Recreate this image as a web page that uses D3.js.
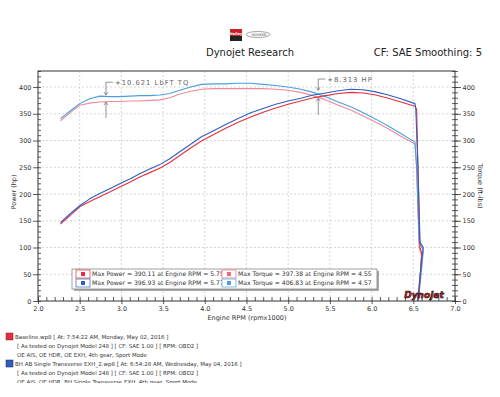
<!DOCTYPE html>
<html>
<head>
<meta charset="utf-8">
<script src="https://cdn.jsdelivr.net/npm/d3@7"></script>
<style>
  body { margin: 0; background: #fff; }
  text { font-family: "DejaVu Sans", sans-serif; }
</style>
</head>
<body>
<div id="graph-container"></div>
<script>
const width = 500, height = 397;

// engine rpm (x1000) shared by the four curves up to the end of the pull
const rpm = [2.27, 2.4, 2.5, 2.62, 2.74, 2.86, 2.98, 3.1, 3.22, 3.34, 3.46, 3.58, 3.7, 3.83, 3.96, 4.1,
  4.25, 4.4, 4.55, 4.7, 4.85, 5.0, 5.15, 5.3, 5.45, 5.6, 5.75, 5.9, 6.05, 6.2, 6.35, 6.52];

const powerBase = [144, 162, 176, 186, 195, 204, 213, 222, 232, 240, 248, 259, 272, 286, 299, 311,
  323, 334, 344, 353, 361, 368, 374, 380, 384, 388, 390, 389, 385, 379, 372, 364];
const powerBH = [147, 165, 178, 191, 201, 210, 219, 228, 238, 247, 255, 266, 279, 293, 307, 318,
  330, 341, 352, 360, 368, 374, 379, 385, 389, 393, 396, 395, 391, 385, 378, 369];
const torqueBase = [337, 354, 366, 370, 372, 373, 373, 374, 374, 375, 376, 380, 387, 392, 396, 397,
  397, 397, 397, 397, 396, 394, 390, 384, 376, 366, 357, 346, 334, 322, 308, 294];
const torqueBH = [341, 357, 369, 378, 383, 382, 382, 383, 384, 384, 385, 388, 394, 400, 405, 406,
  406, 407, 407, 405, 403, 400, 396, 390, 382, 372, 363, 352, 340, 327, 313, 297];

// run-down after the pull (rpm falls back while the value drops)
const powerBaseTailRpm = [6.54, 6.56, 6.58, 6.60, 6.58, 6.56];
const powerBaseTail = [358, 220, 100, 90, 40, 0];
const powerBHTailRpm = [6.53, 6.56, 6.58, 6.62, 6.60, 6.57, 6.55];
const powerBHTail = [360, 230, 110, 100, 75, 30, 0];
const torqueBaseTailRpm = [6.54, 6.57, 6.60, 6.58, 6.56];
const torqueBaseTail = [250, 100, 85, 40, 0];
const torqueBHTailRpm = [6.54, 6.57, 6.62, 6.60, 6.56];
const torqueBHTail = [250, 110, 95, 60, 0];

const xTicks = [2.0, 2.5, 3.0, 3.5, 4.0, 4.5, 5.0, 5.5, 6.0, 6.5, 7.0];
const yTicks = [0, 50, 100, 150, 200, 250, 300, 350, 400];

const legendPower = ["Max Power = 390.11 at Engine RPM = 5.75", "Max Power = 396.93 at Engine RPM = 5.77"];
const legendTorque = ["Max Torque = 397.38 at Engine RPM = 4.55", "Max Torque = 406.83 at Engine RPM = 4.57"];

const notes = [
  "Baseline.wp8 [ At: 7:54:22 AM, Monday, May 02, 2016 ]",
  "[ As tested on Dynojet Model 248 ]  [ CF: SAE 1.00 ]  [ RPM: OBD2 ]",
  "OE AIS, OE HDR, OE EXH, 4th gear, Sport Mode",
  "BH AB Single Transverse EXH_2.wp8 [ At: 6:54:28 AM, Wednesday, May 04, 2016 ]",
  "[ As tested on Dynojet Model 248 ]  [ CF: SAE 1.00 ]  [ RPM: OBD2 ]",
  "OE AIS, OE HDR, BH Single Transverse EXH, 4th gear, Sport Mode"
];

const mLeft = 38, mRight = 455, mTop = 71, mBottom = 301;

const x = d3.scaleLinear().domain([2, 7]).range([mLeft, mRight]);
const y = d3.scaleLinear().domain([0, 430]).range([mBottom, mTop]);

const svg = d3.create("svg")
  .attr("width", width)
  .attr("height", height)
  .attr("viewBox", [0, 0, width, height]);

// header
svg.append("rect").attr("x", 230).attr("y", 29).attr("width", 12).attr("height", 7).attr("fill", "#c8202c");
svg.append("rect").attr("x", 230).attr("y", 36).attr("width", 12).attr("height", 5).attr("fill", "#222");
svg.append("text").attr("x", 236).attr("y", 34.5).attr("text-anchor", "middle")
  .attr("font-size", 3.5).attr("font-weight", "bold").attr("fill", "#fff").text("Holley");
svg.append("ellipse").attr("cx", 258).attr("cy", 34.5).attr("rx", 12).attr("ry", 3)
  .attr("fill", "none").attr("stroke", "#666").attr("stroke-width", 0.6);
svg.append("text").attr("x", 259).attr("y", 36).attr("text-anchor", "middle")
  .attr("font-size", 3.5).attr("fill", "#444").text("HOOKER");

svg.append("text").attr("x", 250).attr("y", 56).attr("text-anchor", "middle")
  .attr("font-family", "Liberation Sans").attr("font-size", 10).attr("fill", "#222")
  .text("Dynojet Research");
svg.append("text").attr("x", 482).attr("y", 56).attr("text-anchor", "end")
  .attr("font-family", "Liberation Sans").attr("font-size", 10).attr("fill", "#222")
  .text("CF: SAE Smoothing: 5");

// grid
const grid = svg.append("g").attr("stroke", "#c4c4c4").attr("stroke-dasharray", "2,2").attr("stroke-width", 0.7);
grid.selectAll("line.v").data(xTicks.slice(1, -1)).join("line").attr("class", "v")
  .attr("x1", d => x(d)).attr("x2", d => x(d)).attr("y1", mTop).attr("y2", mBottom);
grid.selectAll("line.h").data(yTicks.slice(1)).join("line").attr("class", "h")
  .attr("x1", mLeft).attr("x2", mRight).attr("y1", d => y(d)).attr("y2", d => y(d));

// axes
const fmtAxis = g => {
  g.select(".domain").remove();
  g.selectAll("line").attr("stroke", "#333").attr("stroke-width", 0.8);
  g.selectAll("text").attr("font-size", 6.5).attr("fill", "#333").attr("font-family", "DejaVu Sans");
};

svg.append("g").attr("transform", `translate(${mLeft},0)`)
  .call(d3.axisLeft(y).tickValues(yTicks).tickSize(5).tickPadding(1.5)).call(fmtAxis);
svg.append("g").attr("transform", `translate(${mLeft},0)`)
  .call(d3.axisRight(y).tickValues(d3.range(0, 431, 10)).tickSize(3).tickFormat("")).call(fmtAxis);

svg.append("g").attr("transform", `translate(${mRight},0)`)
  .call(d3.axisRight(y).tickValues(yTicks).tickSize(6).tickPadding(1.5)).call(fmtAxis);
svg.append("g").attr("transform", `translate(${mRight},0)`)
  .call(d3.axisRight(y).tickValues(d3.range(0, 431, 10)).tickSize(3).tickFormat("")).call(fmtAxis);
svg.append("g").attr("transform", `translate(${mRight},0)`)
  .call(d3.axisLeft(y).tickValues(d3.range(0, 431, 10)).tickSize(3).tickFormat("")).call(fmtAxis);

svg.append("g").attr("transform", `translate(0,${mBottom})`)
  .call(d3.axisBottom(x).tickValues(xTicks).tickFormat(d3.format(".1f")).tickSize(3).tickPadding(2)).call(fmtAxis);
svg.append("g").attr("transform", `translate(0,${mBottom})`)
  .call(d3.axisTop(x).tickValues(d3.range(20, 71, 1).map(d => d / 10)).tickSize(4).tickFormat("")).call(fmtAxis);

svg.append("rect").attr("x", mLeft).attr("y", mTop).attr("width", mRight - mLeft).attr("height", mBottom - mTop)
  .attr("fill", "none").attr("stroke", "#333").attr("stroke-width", 1);

svg.append("text").attr("transform", `translate(16,${(mTop + mBottom) / 2 + 6}) rotate(-90)`)
  .attr("text-anchor", "middle").attr("font-size", 6.5).attr("fill", "#333").text("Power (hp)");
svg.append("text").attr("transform", `translate(478,${(mTop + mBottom) / 2}) rotate(90)`)
  .attr("text-anchor", "middle").attr("font-size", 6.5).attr("fill", "#333").text("Torque (ft-lbs)");
svg.append("text").attr("x", 247).attr("y", 320).attr("text-anchor", "middle")
  .attr("font-size", 6.5).attr("fill", "#333").text("Engine RPM (rpmx1000)");

// curves
const line = d3.line().x(d => x(d[0])).y(d => y(d[1]));
const series = [
  { r: rpm.concat(torqueBaseTailRpm), v: torqueBase.concat(torqueBaseTail), color: "#ee8a9a" },
  { r: rpm.concat(torqueBHTailRpm), v: torqueBH.concat(torqueBHTail), color: "#4a9fe0" },
  { r: rpm.concat(powerBaseTailRpm), v: powerBase.concat(powerBaseTail), color: "#e0303f" },
  { r: rpm.concat(powerBHTailRpm), v: powerBH.concat(powerBHTail), color: "#2f5fbf" }
];
svg.append("g").selectAll("path").data(series).join("path")
  .attr("fill", "none")
  .attr("stroke", d => d.color)
  .attr("stroke-width", 1.1)
  .attr("stroke-linejoin", "round")
  .attr("d", d => line(d.r.map((r, i) => [r, d.v[i]])));

// handwritten notes
const pen = svg.append("g").attr("stroke", "#666").attr("stroke-width", 0.7).attr("fill", "none");
const ann = [
  { r: 2.815, hi: 409, hit: 385, low: 342, lowHit: 372, label: "+10.621 LbFT TQ" },
  { r: 5.36, hi: 415, hit: 394, low: 348, lowHit: 379, label: "+8.313 HP" }
];
ann.forEach(a => {
  const ax = x(a.r);
  pen.append("path").attr("d", `M${ax + 7},${y(a.hi)}H${ax}V${y(a.hit)}M${ax - 2},${y(a.hit) - 3}L${ax},${y(a.hit)}L${ax + 2},${y(a.hit) - 3}`);
  pen.append("path").attr("d", `M${ax},${y(a.low)}V${y(a.lowHit)}M${ax - 2},${y(a.lowHit) + 3}L${ax},${y(a.lowHit)}L${ax + 2},${y(a.lowHit) + 3}`);
  svg.append("text").attr("x", ax + 9).attr("y", y(a.hi) + 2.5).attr("font-size", 6.8)
    .attr("letter-spacing", 1).attr("fill", "#666").text(a.label);
});

// legend
const lg = svg.append("g");
lg.append("rect").attr("x", 74).attr("y", 271).attr("width", 305).attr("height", 20).attr("fill", "#aaa");
lg.append("rect").attr("x", 72).attr("y", 269).attr("width", 305).attr("height", 20)
  .attr("fill", "#fff").attr("stroke", "#777").attr("stroke-width", 0.7);
const legendRows = [
  { power: legendPower[0], torque: legendTorque[0], c1: "#e0303f", c2: "#ee6a7a" },
  { power: legendPower[1], torque: legendTorque[1], c1: "#2f5fbf", c2: "#4a9fe0" }
];
legendRows.forEach((row, i) => {
  const ry = 274 + i * 9;
  [[76, row.c1, row.power], [222, row.c2, row.torque]].forEach(([lx, c, label]) => {
    lg.append("text").attr("x", lx + 16).attr("y", ry + 2.2).attr("font-size", 6.1).attr("fill", "#333").text(label);
  });
  [[76, row.c1], [222, row.c2]].forEach(([lx, c]) => {
    lg.append("rect").attr("x", lx).attr("y", ry - 4).attr("width", 14).attr("height", 8)
      .attr("fill", "#fff").attr("stroke", c).attr("stroke-width", 0.7);
    lg.append("rect").attr("x", lx + 5).attr("y", ry - 2).attr("width", 4).attr("height", 4).attr("fill", c);
  });
});

// dynojet logo
svg.append("text").attr("x", 424).attr("y", 298).attr("text-anchor", "middle")
  .attr("font-size", 9).attr("font-weight", "bold").attr("font-style", "italic")
  .attr("fill", "#d8202a").attr("stroke", "#111").attr("stroke-width", 0.6).text("Dynojet");

// run notes
svg.append("clipPath").attr("id", "notesClip").append("rect")
  .attr("x", 0).attr("y", 0).attr("width", width).attr("height", 383);
const nt = svg.append("g").attr("clip-path", "url(#notesClip)");
nt.append("rect").attr("x", 6).attr("y", 333).attr("width", 7).attr("height", 7)
  .attr("fill", "#e0303f").attr("stroke", "#822").attr("stroke-width", 0.5);
nt.append("rect").attr("x", 6).attr("y", 360).attr("width", 7).attr("height", 7)
  .attr("fill", "#2f5fbf").attr("stroke", "#224").attr("stroke-width", 0.5);
nt.selectAll("text").data(notes).join("text")
  .attr("x", (d, i) => (i % 3 === 0 ? 15 : 17))
  .attr("y", (d, i) => 339 + i * 8.9)
  .attr("font-family", "Liberation Sans").attr("font-size", 5.5).attr("fill", "#333")
  .text(d => d);

document.getElementById("graph-container").appendChild(svg.node());
</script>
</body>
</html>
